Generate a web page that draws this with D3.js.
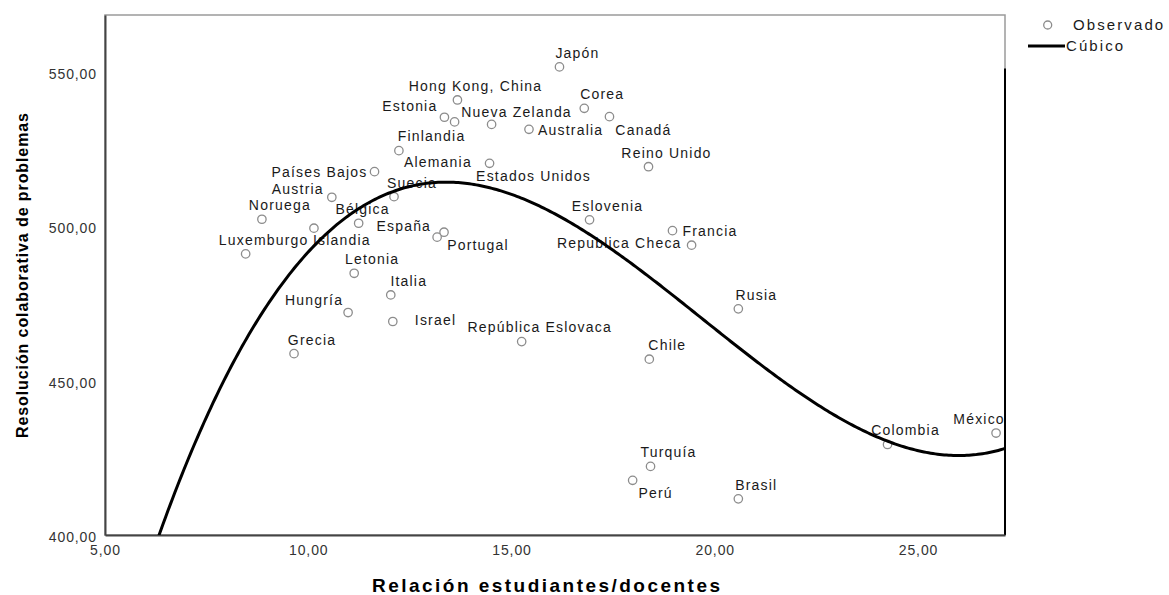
<!DOCTYPE html>
<html>
<head>
<meta charset="utf-8">
<script src="https://cdn.jsdelivr.net/npm/d3@7"></script>
<style>
  body { margin: 0; background: #fff; }
  svg { font-family: "Liberation Sans", Arial, sans-serif; }
</style>
</head>
<body>
<svg id="chart"></svg>
<script>
// data
const countries = ["Japón", "Hong Kong, China", "Estonia", "Finlandia", "Nueva Zelanda", "Australia",
    "Corea", "Canadá", "Alemania", "Estados Unidos", "Reino Unido", "Países Bajos", "Suecia", "Austria",
    "Noruega", "Eslovenia", "Bélgica", "Islandia", "Portugal", "España", "Francia", "Republica Checa",
    "Luxemburgo", "Letonia", "Italia", "Rusia", "Hungría", "Israel", "República Eslovaca", "Grecia",
    "Chile", "Colombia", "México", "Turquía", "Perú", "Brasil"];
const ratio = [16.18, 13.67, 13.35, 13.60, 14.51, 15.43,
    16.79, 17.41, 12.23, 14.46, 18.37, 11.63, 12.11, 10.58,
    8.86, 16.92, 11.24, 10.14, 13.34, 13.17, 18.96, 19.43,
    8.46, 11.13, 12.03, 20.58, 10.98, 12.08, 15.25, 9.65,
    18.39, 24.25, 26.92, 18.42, 17.98, 20.58];
const score = [551.5, 540.8, 535.2, 533.7, 532.9, 531.3,
    538.1, 535.4, 524.4, 520.3, 519.2, 517.6, 509.5, 509.3,
    502.2, 502.0, 500.9, 499.3, 498.0, 496.4, 498.5, 493.8,
    491.0, 484.7, 477.7, 473.2, 472.0, 469.1, 462.6, 458.7,
    456.9, 429.3, 433.0, 422.2, 417.7, 411.7];
// cubic fit coefficients (b0 + b1 x + b2 x^2 + b3 x^3)
const cubicCoef = [3.27, 92.129, -5.2117, 0.0882];
const xTicks = [5, 10, 15, 20, 25];
const yTicks = [400, 450, 500, 550];

// label placement (dx, dy, anchor) relative to the point, default is above-right
const labelPos = {
    "Estonia": [-7, -11, "end"],
    "Finlandia": [-23, 14, "middle"],
    "Nueva Zelanda": [25, -12, "middle"],
    "Australia": [9, 1, "start"],
    "Canadá": [34, 13, "middle"],
    "Alemania": [39, 11, "middle"],
    "Estados Unidos": [44, 13, "middle"],
    "Países Bajos": [-7, 0, "end"],
    "Austria": [-34, -8, "middle"],
    "Bélgica": [4, -14, "middle"],
    "Islandia": [28, 12, "middle"],
    "Portugal": [34, 13, "middle"],
    "España": [-6, -11, "end"],
    "Francia": [10, 0, "start"],
    "Republica Checa": [-10, -2, "end"],
    "Hungría": [-34, -12, "middle"],
    "Israel": [22, -1, "start"],
    "México": [-17, -14, "middle"],
    "Perú": [23, 13, "middle"]
};

const W = 1169, H = 595;
const margin = {left: 105, right: 164, top: 15, bottom: 60};
const innerW = W - margin.left - margin.right;
const innerH = H - margin.top - margin.bottom;

const svg = d3.select("#chart").attr("width", W).attr("height", H);
const chart = svg.append("g").attr("transform", `translate(${margin.left}, ${margin.top})`);

const xscale = d3.scaleLinear().domain([5, 27.14]).range([0, innerW]);
const yscale = d3.scaleLinear().domain([400, 568.3]).range([innerH, 0]);
const fmt = v => d3.format(".2f")(v).replace(".", ",");

chart.append("clipPath").attr("id", "plotclip")
    .append("rect").attr("width", innerW).attr("height", innerH);

// frame
chart.append("rect")
    .attr("width", innerW).attr("height", innerH)
    .attr("fill", "none").attr("stroke", "#9a9a9a").attr("stroke-width", 1.5);
chart.append("line")
    .attr("x1", innerW).attr("x2", innerW)
    .attr("y1", yscale(551)).attr("y2", innerH)
    .attr("stroke", "#000").attr("stroke-width", 2);

// axes
const xaxis_group = chart.append("g")
    .attr("transform", `translate(0, ${innerH})`)
    .call(d3.axisBottom(xscale).tickValues(xTicks).tickFormat(fmt).tickSize(0));
const yaxis_group = chart.append("g")
    .call(d3.axisLeft(yscale).tickValues(yTicks).tickFormat(fmt).tickSize(0));

[xaxis_group, yaxis_group].forEach(g => {
    g.select(".domain").attr("stroke", "#444").attr("stroke-width", 2);
    g.selectAll("text")
        .attr("font-family", "Liberation Sans, Arial, sans-serif")
        .attr("font-size", 14).attr("fill", "#333")
        .style("letter-spacing", "0.9px");
});
xaxis_group.selectAll("text").attr("y", 15).attr("dy", "0.35em");
yaxis_group.selectAll("text").attr("x", -8).attr("y", 2).attr("dy", "0.35em");

// points
const points = countries.map((c, i) => ({country: c, x: ratio[i], y: score[i]}));

const labels = chart.append("g").attr("clip-path", "url(#plotclip)");
labels.selectAll("text")
    .data(points)
    .join("text")
    .attr("x", d => xscale(d.x) + (labelPos[d.country] || [18])[0])
    .attr("y", d => yscale(d.y) + (labelPos[d.country] || [18, -14])[1])
    .attr("dy", "0.35em")
    .attr("text-anchor", d => (labelPos[d.country] || [18, -14, "middle"])[2])
    .attr("font-size", 14)
    .attr("fill", "#1a1a1a")
    .style("letter-spacing", "1.2px")
    .text(d => d.country);

chart.append("g").selectAll("circle")
    .data(points)
    .join("circle")
    .attr("cx", d => xscale(d.x))
    .attr("cy", d => yscale(d.y))
    .attr("r", 4.2)
    .attr("fill", "#fff")
    .attr("stroke", "#8c8c8c")
    .attr("stroke-width", 1.3);

// fitted cubic
const cubic = x => cubicCoef[0] + cubicCoef[1] * x + cubicCoef[2] * x * x + cubicCoef[3] * x * x * x;
const curveX = d3.range(0, 401).map(i => 5 + i * (27.14 - 5) / 400);
chart.append("path")
    .datum(curveX)
    .attr("clip-path", "url(#plotclip)")
    .attr("fill", "none")
    .attr("stroke", "#000")
    .attr("stroke-width", 3)
    .attr("d", d3.line().x(d => xscale(d)).y(d => yscale(cubic(d))));

// axis titles
svg.append("text")
    .attr("x", 546).attr("y", 585)
    .attr("dy", "0.35em")
    .attr("text-anchor", "middle")
    .attr("font-size", 19).attr("font-weight", "bold")
    .attr("textLength", 348).attr("lengthAdjust", "spacing")
    .text("Relación estudiantes/docentes");

svg.append("text")
    .attr("transform", "translate(22, 275.5) rotate(-90)")
    .attr("dy", "0.35em")
    .attr("text-anchor", "middle")
    .attr("font-size", 16).attr("font-weight", "bold")
    .attr("textLength", 325).attr("lengthAdjust", "spacing")
    .text("Resolución colaborativa de problemas");

// legend
const legend = svg.append("g");
legend.append("circle")
    .attr("cx", 1047.7).attr("cy", 25).attr("r", 4)
    .attr("fill", "#fff").attr("stroke", "#8c8c8c").attr("stroke-width", 1.3);
legend.append("text")
    .attr("x", 1073).attr("y", 25).attr("dy", "0.35em")
    .attr("font-size", 15).style("letter-spacing", "2.1px").attr("fill", "#1a1a1a")
    .text("Observado");
legend.append("line")
    .attr("x1", 1028).attr("x2", 1065).attr("y1", 46).attr("y2", 46)
    .attr("stroke", "#000").attr("stroke-width", 3);
legend.append("text")
    .attr("x", 1066).attr("y", 46).attr("dy", "0.35em")
    .attr("font-size", 15).style("letter-spacing", "2.1px").attr("fill", "#1a1a1a")
    .text("Cúbico");
</script>
</body>
</html>
